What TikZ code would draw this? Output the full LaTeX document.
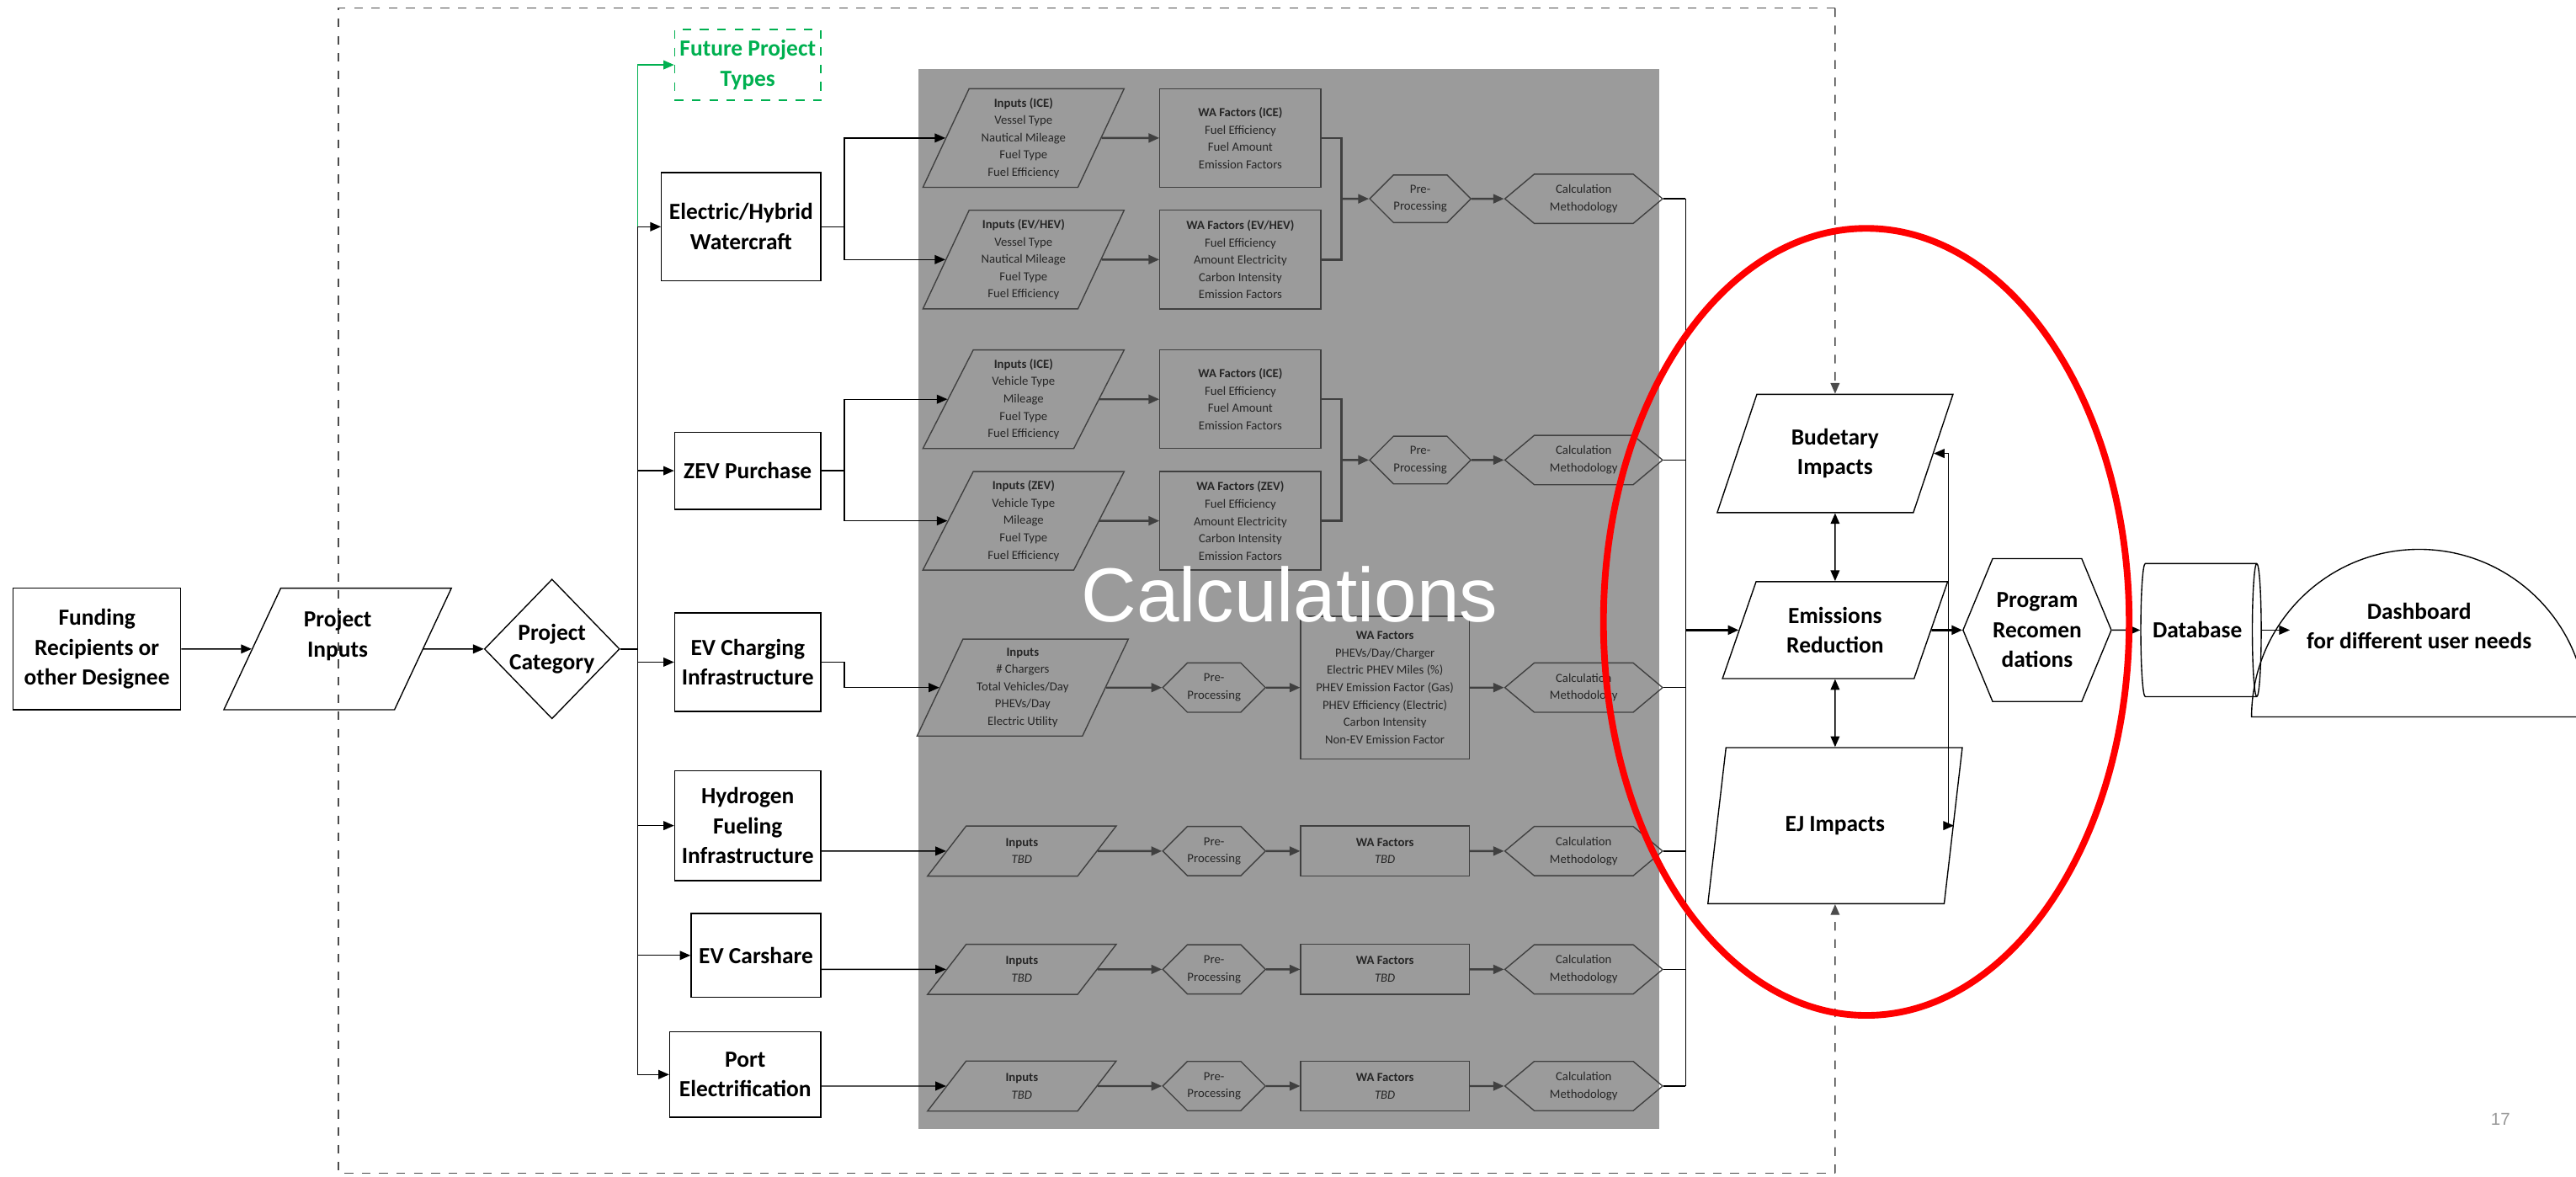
\documentclass[tikz,border=0pt]{standalone}
\usepackage{fontspec}
\setmainfont{Carlito}
\newfontfamily\calcfont{Liberation Sans}
\usetikzlibrary{shapes.geometric, shapes.symbols, arrows.meta}
\definecolor{calcgray}{HTML}{9B9B9B}
\definecolor{calcline}{HTML}{404040}
\definecolor{futgreen}{HTML}{00B050}

\begin{document}
\begin{tikzpicture}[>={Triangle[length=1.3mm,width=1.1mm]},
  big/.style={font=\fontsize{8}{10.4}\selectfont\bfseries, align=center},
  sbox/.style={draw, big, inner sep=1pt},
  para/.style={trapezium, trapezium left angle=66, trapezium right angle=114, trapezium stretches=true, draw, align=center, inner sep=0pt},
  hexa/.style={signal, signal to=east and west, draw, align=center, inner sep=0pt},
  cshape/.style={draw=calcline, text=black!85, font=\fontsize{4.3}{6}\selectfont, align=center},
  cline/.style={draw=calcline, line width=0.7pt}]
\useasboundingbox (0,0) rectangle (31.36,14.32);
\fill[calcgray] (11.18,0.58) rectangle (20.20,13.48);
\coordinate (tr) at (22.34,14.22);
\coordinate (br) at (22.34,0.04);
\draw[dashed, black!70] (tr) -- (4.12,14.22) -- (4.12,0.04) -- (br);

\node (fund) at (1.18,6.42) [sbox, minimum width=2.04cm, minimum height=1.48cm] {Funding\\Recipients or\\other Designee};
\node (pin) at (4.11,6.42) [para, big, minimum width=2.78cm, minimum height=1.48cm] {Project\\Inputs\\\mbox{}};
\node (cat) at (6.72,6.42) [diamond, draw, big, inner sep=0pt, minimum width=1.62cm, minimum height=1.70cm] {Project\\Category};
\draw[->] (fund) -- (pin);
\draw[->] (pin) -- (cat);

\node (fut) at (10,13.53) [sbox, anchor=east, draw=futgreen, text=futgreen, dashed, minimum width=1.78cm, minimum height=0.86cm] {Future Project\\Types};
\node (eh) at (10,11.56) [sbox, anchor=east, minimum width=1.94cm, minimum height=1.32cm] {Electric/Hybrid\\Watercraft};
\node (zev) at (10,8.59) [sbox, anchor=east, minimum width=1.78cm, minimum height=0.94cm] {ZEV Purchase};
\node (evc) at (10,6.26) [sbox, anchor=east, minimum width=1.78cm, minimum height=1.20cm] {EV Charging\\Infrastructure};
\node (hyd) at (10,4.27) [sbox, anchor=east, minimum width=1.78cm, minimum height=1.34cm] {Hydrogen\\Fueling\\Infrastructure};
\node (car) at (10,2.69) [sbox, anchor=east, minimum width=1.58cm, minimum height=1.02cm] {EV Carshare};
\node (port) at (10,1.24) [sbox, anchor=east, minimum width=1.84cm, minimum height=1.04cm] {Port\\Electrification};

\coordinate (bus) at (7.76,6.42);
\draw (cat) -- (bus);
\draw (eh.west -| bus) -- (port.west -| bus);
\foreach \n in {eh,zev,evc,hyd,car,port} \draw[->] (\n.west -| bus) -- (\n.west);
\draw[->, futgreen] (eh.west -| bus) |- (fut.west);

\node (wi1) at (12.46,12.64) [para, cshape, minimum width=2.46cm, minimum height=1.20cm] {\textbf{Inputs (ICE)}\\Vessel Type\\Nautical Mileage\\Fuel Type\\Fuel Efficiency};
\node (wi2) at (12.46,11.16) [para, cshape, minimum width=2.46cm, minimum height=1.20cm] {\textbf{Inputs (EV/HEV)}\\Vessel Type\\Nautical Mileage\\Fuel Type\\Fuel Efficiency};
\node (wf1) at (15.10,12.64) [cshape, minimum width=1.96cm, minimum height=1.20cm] {\textbf{WA Factors (ICE)}\\Fuel Efficiency\\Fuel Amount\\Emission Factors};
\node (wf2) at (15.10,11.16) [cshape, minimum width=1.96cm, minimum height=1.20cm] {\textbf{WA Factors (EV/HEV)}\\Fuel Efficiency\\Amount Electricity\\Carbon Intensity\\Emission Factors};
\node (wp) at (17.29,11.90) [hexa, cshape, minimum width=1.22cm, minimum height=0.58cm] {Pre-\\Processing};
\node (wc) at (19.28,11.90) [hexa, cshape, signal pointer angle=80, minimum width=1.92cm, minimum height=0.60cm] {Calculation\\Methodology};

\node (zi1) at (12.46,9.46) [para, cshape, minimum width=2.46cm, minimum height=1.20cm] {\textbf{Inputs (ICE)}\\Vehicle Type\\Mileage\\Fuel Type\\Fuel Efficiency};
\node (zi2) at (12.46,7.98) [para, cshape, minimum width=2.46cm, minimum height=1.20cm] {\textbf{Inputs (ZEV)}\\Vehicle Type\\Mileage\\Fuel Type\\Fuel Efficiency};
\node (zf1) at (15.10,9.46) [cshape, minimum width=1.96cm, minimum height=1.20cm] {\textbf{WA Factors (ICE)}\\Fuel Efficiency\\Fuel Amount\\Emission Factors};
\node (zf2) at (15.10,7.98) [cshape, minimum width=1.96cm, minimum height=1.20cm] {\textbf{WA Factors (ZEV)}\\Fuel Efficiency\\Amount Electricity\\Carbon Intensity\\Emission Factors};
\node (zp) at (17.29,8.72) [hexa, cshape, minimum width=1.22cm, minimum height=0.58cm] {Pre-\\Processing};
\node (zc) at (19.28,8.72) [hexa, cshape, signal pointer angle=80, minimum width=1.92cm, minimum height=0.60cm] {Calculation\\Methodology};

\node (ei) at (12.45,5.95) [para, cshape, minimum width=2.58cm, minimum height=1.18cm] {\textbf{Inputs}\\\# Chargers\\Total Vehicles/Day\\PHEVs/Day\\Electric Utility};
\node (ep) at (14.78,5.95) [hexa, cshape, minimum width=1.20cm, minimum height=0.60cm] {Pre-\\Processing};
\node (ef) at (16.86,5.95) [cshape, minimum width=2.05cm, minimum height=1.74cm] {\textbf{WA Factors}\\PHEVs/Day/Charger\\Electric PHEV Miles (\%)\\PHEV Emission Factor (Gas)\\PHEV Efficiency (Electric)\\Carbon Intensity\\Non-EV Emission Factor};
\node (ec) at (19.28,5.95) [hexa, cshape, signal pointer angle=80, minimum width=1.92cm, minimum height=0.60cm] {Calculation\\Methodology};

\foreach \r/\y in {h/3.96,c/2.52,p/1.10}{
  \node (\r-in) at (12.44,\y) [para, cshape, minimum width=2.30cm, minimum height=0.61cm] {\textbf{Inputs}\\\textit{TBD}};
  \node (\r-pre) at (14.78,\y) [hexa, cshape, minimum width=1.20cm, minimum height=0.60cm] {Pre-\\Processing};
  \node (\r-wa) at (16.86,\y) [cshape, minimum width=2.05cm, minimum height=0.61cm] {\textbf{WA Factors}\\\textit{TBD}};
  \node (\r-calc) at (19.28,\y) [hexa, cshape, signal pointer angle=80, minimum width=1.92cm, minimum height=0.60cm] {Calculation\\Methodology};
  \draw[->, cline] (\r-in) -- (\r-pre);
  \draw[->, cline] (\r-pre) -- (\r-wa);
  \draw[->, cline] (\r-wa) -- (\r-calc);
}

\coordinate (eb) at (10.28,11.56);
\coordinate (zb) at (10.28,8.59);
\coordinate (evb) at (10.28,6.26);
\draw (eh.east) -- (eb);
\draw[->] (eb) |- (wi1);
\draw[->] (eb) |- (wi2);
\draw (zev.east) -- (zb);
\draw[->] (zb) |- (zi1);
\draw[->] (zb) |- (zi2);
\draw[->] (evc.east) -- (evb) |- (ei);
\draw[->] (hyd.east |- h-in) -- (h-in);
\draw[->] (car.east |- c-in) -- (c-in);
\draw[->] (port.east |- p-in) -- (p-in);

\coordinate (wm) at (16.33,11.90);
\coordinate (zm) at (16.33,8.72);
\draw[->, cline] (wi1) -- (wf1);
\draw[->, cline] (wi2) -- (wf2);
\draw[cline] (wf1.east) -| (wm) |- (wf2.east);
\draw[->, cline] (wm) -- (wp);
\draw[->, cline] (wp) -- (wc);
\draw[->, cline] (zi1) -- (zf1);
\draw[->, cline] (zi2) -- (zf2);
\draw[cline] (zf1.east) -| (zm) |- (zf2.east);
\draw[->, cline] (zm) -- (zp);
\draw[->, cline] (zp) -- (zc);
\draw[->, cline] (ei) -- (ep);
\draw[->, cline] (ep) -- (ef);
\draw[->, cline] (ef) -- (ec);

\node (bud) at (22.34,8.80) [para, big, minimum width=2.88cm, minimum height=1.44cm] {Budetary\\Impacts};
\node (em) at (22.34,6.65) [para, big, minimum width=2.75cm, minimum height=1.18cm] {Emissions\\Reduction};
\node (ej) at (22.34,4.27) [para, big, minimum width=3.10cm, minimum height=1.90cm] {EJ Impacts};
\node (prog) at (24.80,6.65) [hexa, big, signal pointer angle=135, minimum width=1.44cm, minimum height=1.74cm] {Program\\Recomen\\dations};
\node (db) at (26.75,6.65) [cylinder, draw, big, aspect=0.25, minimum width=1.62cm, minimum height=1.18cm] {Database};
\node (dash) at (29.45,5.586) [semicircle, draw, anchor=chord center, minimum width=4.08cm] {};
\node (dashtxt) at (29.45,6.70) [big] {Dashboard\\for different user needs};

\coordinate (rb) at (20.52,6.65);
\foreach \n in {wc,zc,ec,h-calc,c-calc,p-calc} \draw (\n.east) -- (\n.east -| rb);
\draw (wc.east -| rb) -- (p-calc.east -| rb);
\draw[->, thick] (em.west -| rb) -- (em);
\draw[<->] (bud) -- (em);
\draw[<->] (em) -- (ej);
\draw[->, thick] (em) -- (prog);
\coordinate (lp) at (23.72,6.65);
\draw[->] (lp) |- (bud);
\draw[->] (lp) |- (ej);
\draw[->] (prog) -- (db);
\draw[->] (db.east) -- ([xshift=3mm]db.east -| dash.west);
\draw[dashed, black!70, ->] (tr) -- (bud);
\draw[dashed, black!70, ->] (br) -- (ej);

\node (calc) at (15.70,7.08) [white, font=\calcfont\fontsize{26.5}{30}\selectfont] {Calculations};
\node (pg) at (30.44,0.70) [black!40, font=\calcfont\fontsize{6}{7}\selectfont] {17};
\draw[red, line width=2.3pt] (22.72,6.75) ellipse [x radius=3.20, y radius=4.79];
\end{tikzpicture}
\end{document}
